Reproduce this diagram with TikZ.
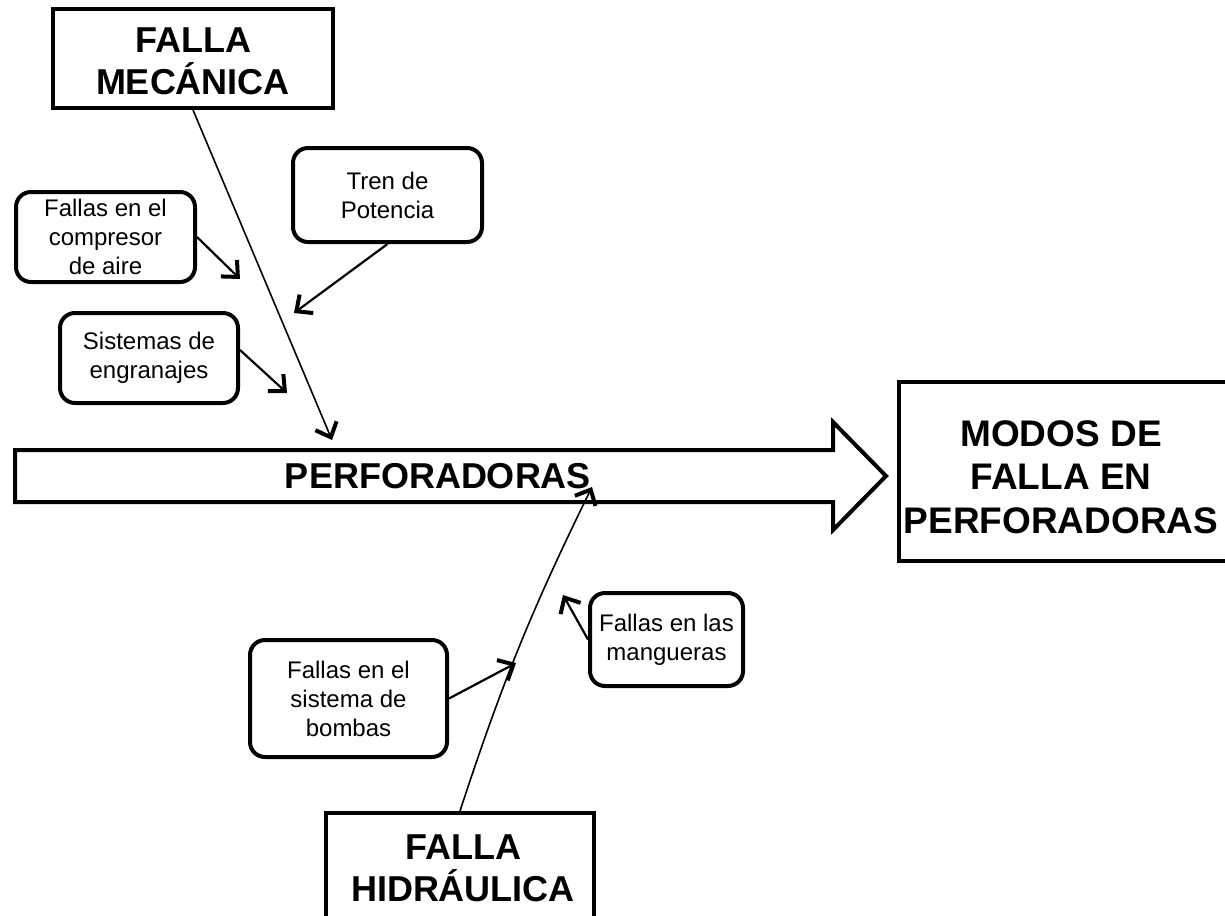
\documentclass[tikz,border=0pt]{standalone}
\usepackage{fontspec}
\setmainfont{Liberation Sans}
\usetikzlibrary{arrows.meta}
\begin{document}
\begin{tikzpicture}[x=1pt,y=-1pt,
  bigtext/.style={inner sep=0pt, align=center,
    font=\fontsize{36}{42}\selectfont\bfseries},
  headbox/.style={draw, line width=4pt},
  smallbox/.style={draw, line width=4pt, rounded corners=15pt, inner sep=0pt,
    align=center, font=\fontsize{24}{29}\selectfont},
  longconn/.style={line width=1.6pt, -{Straight Barb[length=12.5pt,width=23pt,line width'=4pt]}},
  shortconn/.style={line width=2.2pt, -{Straight Barb[length=12.5pt,width=23pt,line width'=4pt]}}
]
\useasboundingbox (0,0) rectangle (1225,915);

% main arrow
\draw[line width=4pt, miter limit=10] (15,450) -- (833,450) -- (833,422) -- (886,476)
  -- (833,530) -- (833,502) -- (15,502) -- cycle;
\node[bigtext] (perf) at (438,476) {PERFORADORAS};

% head boxes
\node[headbox, minimum width=280, minimum height=99] (mec) at (193,58.5) {};
\node[bigtext] (mectxt) at (193,61.5) {FALLA\\MECÁNICA};
\node[headbox, minimum width=343, minimum height=179, anchor=west] (modos) at (897,471.5) {};
\node[bigtext, font=\fontsize{37}{43.5}\selectfont\bfseries] (modostxt) at (1061,477) {MODOS DE\\FALLA EN\\PERFORADORAS};
\node[headbox, minimum width=268, minimum height=140, anchor=north] (hid) at (460,811) {};
\node[bigtext] (hidtxt) at (463,868) {FALLA\\HIDRÁULICA};

% cause boxes
\node[smallbox, minimum width=189, minimum height=94] (tren) at (387.5,195) {Tren de\\Potencia};
\node[smallbox, minimum width=179, minimum height=90] (comp) at (105.5,237) {Fallas en el\\compresor\\de aire};
\node[smallbox, minimum width=178, minimum height=90] (sis) at (149,358) {Sistemas de\\engranajes};
\node[smallbox, minimum width=197, minimum height=117] (bom) at (348.5,698.5) {Fallas en el\\sistema de\\bombas};
\node[smallbox, minimum width=153, minimum height=93] (mang) at (666.5,639.5) {Fallas en las\\mangueras};

% end points
\coordinate (tipM) at (332,440);
\coordinate (tipH) at (592,487);
\coordinate (tipTren) at (294,313);
\coordinate (tipComp) at (240,279);
\coordinate (tipSis) at (287,393);
\coordinate (tipBom) at (516,663);
\coordinate (tipMang) at (563,595);

% connectors
\draw[longconn] (mec.south) -- (tipM);
\draw[longconn] (hid.north) to[bend left=4] (tipH);
\draw[shortconn] (tren.south) -- (tipTren);
\draw[shortconn] (comp.east) -- (tipComp);
\draw[shortconn] ([yshift=8pt]sis.east) -- (tipSis);
\draw[shortconn] (bom.east) -- (tipBom);
\draw[shortconn] (mang.west) -- (tipMang);
\end{tikzpicture}
\end{document}
